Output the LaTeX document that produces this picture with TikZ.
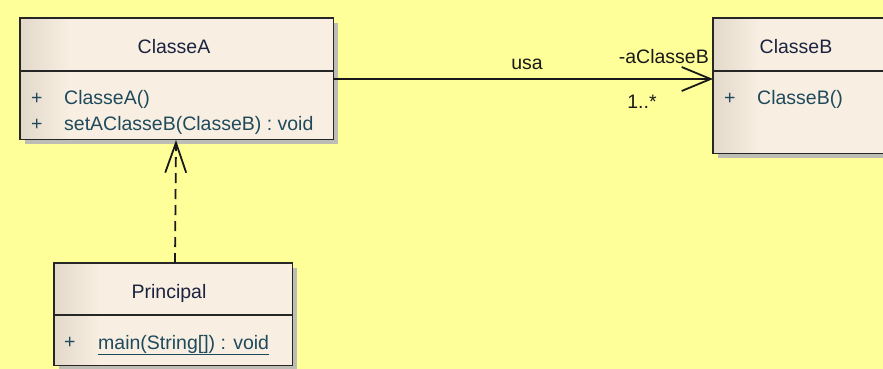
\documentclass[tikz,border=0pt]{standalone}
\usepackage{fontspec}
\setmainfont{Liberation Sans}
\usetikzlibrary{arrows.meta}
\definecolor{bgyellow}{HTML}{FFFF99}
\definecolor{boxfill}{HTML}{F8EFE2}
\definecolor{boxleft}{HTML}{E2D9CB}
\definecolor{shadowc}{HTML}{BDBDB6}
\definecolor{namec}{HTML}{1C2340}
\definecolor{methc}{HTML}{1F4A5C}
\tikzset{
  classbox/.style={draw=none, fill=boxfill, inner sep=0pt, anchor=north west},
  shadowbox/.style={fill=shadowc, draw=none, inner sep=0pt, anchor=north west},
  txt/.style={inner sep=0pt, font=\fontsize{19.5}{23}\selectfont},
  cname/.style={txt, text=namec},
  meth/.style={txt, text=methc, anchor=west},
  lbl/.style={txt, text=black!90},
  divline/.style={draw=black!85, line width=1.8pt},
  assoc/.style={draw=black!90, line width=1.8pt, -{Straight Barb[length=29pt,width=24pt,line width=1.8pt]}},
  dep/.style={draw=black!90, line width=1.8pt, dash pattern=on 10pt off 6pt, -{Straight Barb[length=30pt,width=21pt,line width=1.8pt]}}
}
\begin{document}
\begin{tikzpicture}[x=1pt,y=-1pt]
\useasboundingbox (0,0) rectangle (883,369);
\clip (0,0) rectangle (883,369);
\fill[bgyellow] (0,0) rectangle (883,369);
% shadows
\node[shadowbox, minimum width=313pt, minimum height=121pt] (Ash) at (25,23) {};
\node[shadowbox, minimum width=200pt, minimum height=135pt] (Bsh) at (718,23) {};
\node[shadowbox, minimum width=238pt, minimum height=102pt] (Psh) at (59,268) {};
% boxes
\node[classbox, minimum width=313pt, minimum height=121pt] (A) at (20,18) {};
\node[classbox, minimum width=200pt, minimum height=135pt] (B) at (713,18) {};
\node[classbox, minimum width=238pt, minimum height=102pt] (P) at (54,263) {};
% left gradients
\shade[left color=boxleft, right color=boxfill] (20,18) rectangle (70,139);
\shade[left color=boxleft, right color=boxfill] (713,18) rectangle (760,153);
\shade[left color=boxleft, right color=boxfill] (54,263) rectangle (100,365);
\draw[line width=1.8pt, draw=black!85] (A.north west) rectangle (A.south east);
\draw[line width=1.8pt, draw=black!85] (B.north west) rectangle (B.south east);
\draw[line width=1.8pt, draw=black!85] (P.north west) rectangle (P.south east);
% dividers
\coordinate (Ad1) at (20,71); \coordinate (Ad2) at (333,71);
\coordinate (Bd1) at (713,71); \coordinate (Bd2) at (913,71);
\coordinate (Pd1) at (54,315); \coordinate (Pd2) at (292,315);
\draw[divline] (Ad1) -- (Ad2);
\draw[divline] (Bd1) -- (Bd2);
\draw[divline] (Pd1) -- (Pd2);
% texts
\node[cname] (An) at (174,47) {ClasseA};
\node[meth] (Ap1) at (31,99) {+};
\node[meth] (Am1) at (64,99) {ClasseA()};
\node[meth] (Ap2) at (31,125) {+};
\node[meth] (Am2) at (64,125) {setAClasseB(ClasseB) : void};
\node[cname] (Bn) at (796,47) {ClasseB};
\node[meth] (Bp1) at (724,99) {+};
\node[meth] (Bm1) at (757,99) {ClasseB()};
\node[cname] (Pn) at (169,293) {Principal};
\node[meth] (Pp1) at (64,343) {+};
\node[meth, anchor=base west] (Pm1) at (98,349) {\underline{main(String[]) : void}};
% connectors
\draw[assoc] (A.east |- 0,79) -- (B.west |- 0,79);
\node[lbl] (usa) at (527,64) {usa};
\node[lbl, anchor=east] (role) at (709,57) {-aClasseB};
\node[lbl] (mult) at (642,102) {1..*};
\coordinate (Ptop) at (175,263);
\coordinate (Abot) at (176,140);
\draw[dep] (Ptop) -- (Abot);
\end{tikzpicture}
\end{document}
